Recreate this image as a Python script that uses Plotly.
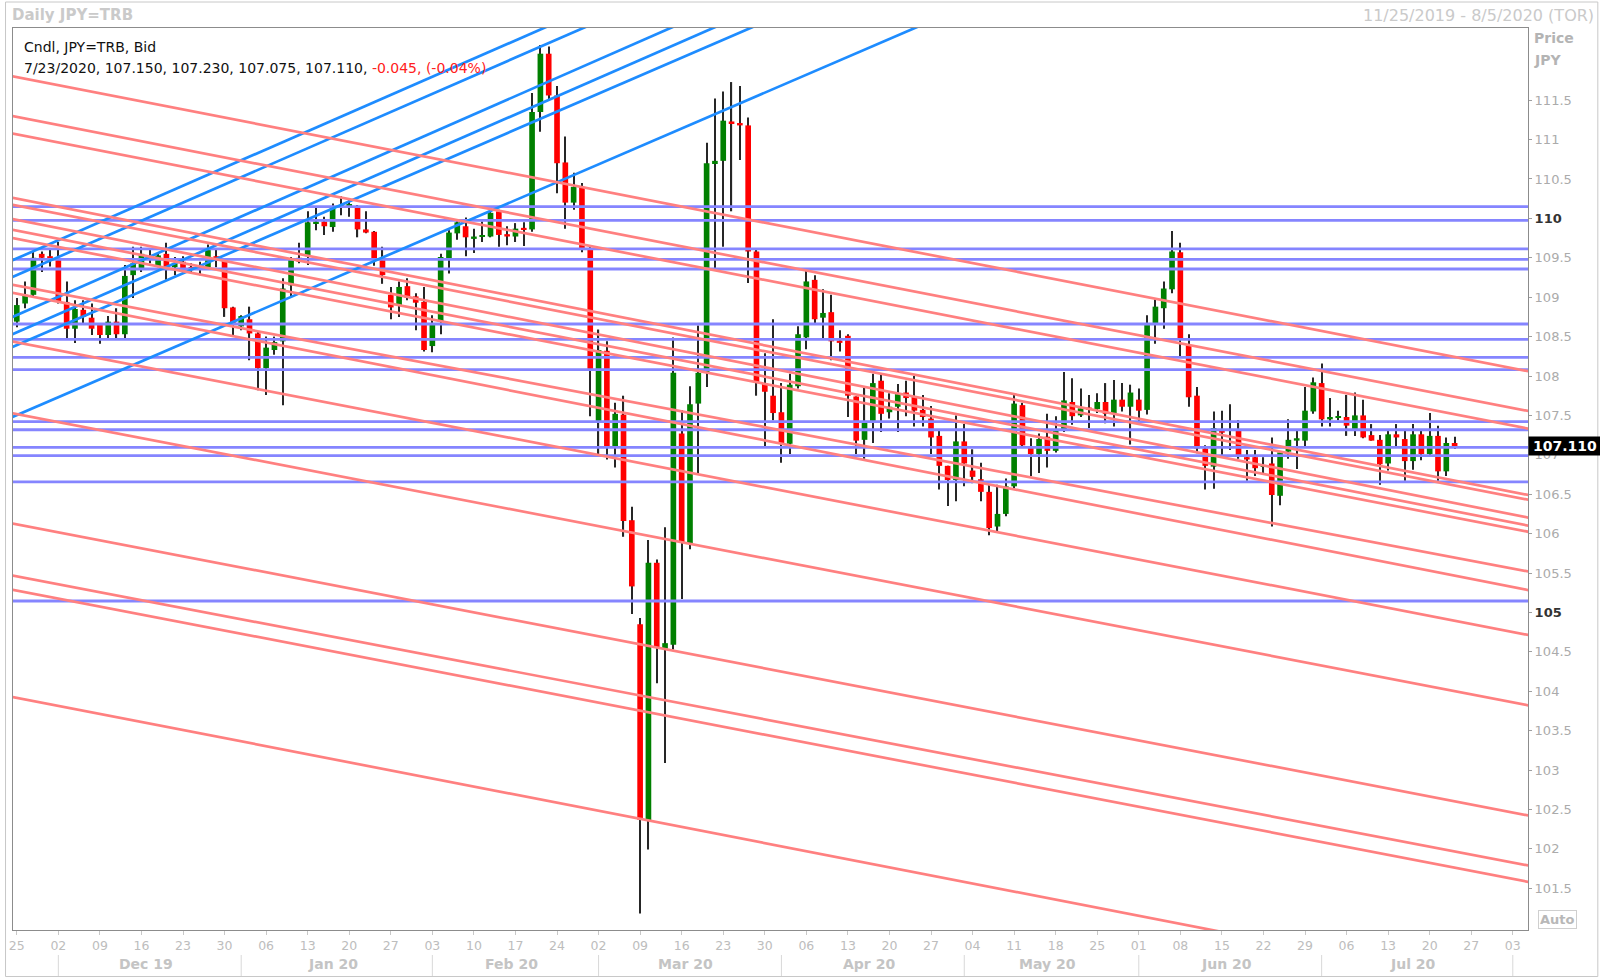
import plotly.graph_objects as go
import pandas as pd

# ---------------- data ----------------
all_days = pd.bdate_range("2019-11-25", "2020-08-05")   # trading-day axis (weekends removed)
n_candles = 174

opens = [108.69,108.92,109.03,109.55,109.52,109.47,108.94,108.60,108.84,108.74,
         108.66,108.52,108.69,108.53,109.28,109.35,109.50,109.39,109.55,109.38,
         109.45,109.38,109.37,109.38,109.52,109.47,108.87,108.63,108.72,108.54,
         108.10,108.33,108.44,109.15,109.50,109.52,109.94,109.96,109.89,110.15,
         110.16,110.15,109.86,109.83,109.47,109.03,108.89,109.14,109.01,108.94,
         108.38,108.69,109.49,109.81,109.90,109.74,109.77,109.77,110.09,109.80,
         109.77,109.88,109.86,111.35,112.09,111.56,110.71,110.20,110.40,109.60,
         107.43,108.32,107.11,107.51,106.17,104.85,102.36,105.63,104.54,104.59,
         107.27,105.88,107.65,108.05,110.69,110.73,111.23,111.21,111.18,109.58,
         107.91,107.75,107.54,107.14,107.87,108.49,109.22,108.74,108.81,108.45,
         108.51,107.74,107.19,107.43,107.94,107.54,107.61,107.79,107.74,107.57,
         107.46,107.24,106.86,106.68,107.17,106.80,106.69,106.53,106.09,106.25,
         106.60,107.63,107.11,107.01,107.23,107.05,107.31,107.67,107.50,107.60,
         107.58,107.67,107.53,107.70,107.61,107.70,107.57,108.65,108.86,109.10,
         109.57,108.39,107.75,107.08,106.85,107.32,107.32,107.31,106.97,106.97,
         106.85,106.89,106.48,107.04,107.18,107.18,107.55,107.91,107.45,107.47,
         107.48,107.31,107.50,107.25,107.19,106.89,107.26,107.20,106.92,107.26,
         107.01,107.24,106.79,107.150]
highs = [108.99,109.20,109.58,109.58,109.60,109.70,109.20,108.96,108.96,108.92,
         108.67,108.76,108.86,109.41,109.64,109.64,109.61,109.55,109.69,109.51,
         109.52,109.43,109.45,109.67,109.60,109.49,108.88,108.77,108.88,108.56,
         108.50,108.50,109.24,109.51,109.69,110.09,110.15,110.02,110.19,110.28,
         110.23,110.17,110.09,109.84,109.64,109.13,109.20,109.24,109.05,109.13,
         108.77,109.55,109.85,109.99,110.01,109.87,109.96,110.09,110.11,109.90,
         109.94,109.95,111.59,112.20,112.18,111.68,111.04,110.58,110.45,109.64,
         108.59,108.44,107.66,107.75,106.34,104.93,105.92,105.67,106.08,108.49,
         107.57,107.87,108.64,110.96,111.52,111.61,111.73,111.68,111.28,109.62,
         108.29,108.72,107.91,108.03,108.63,109.34,109.28,109.10,109.03,108.58,
         108.53,107.74,107.86,108.03,108.03,107.78,107.90,107.94,108.00,107.76,
         107.62,107.32,106.86,107.50,107.39,107.07,106.90,106.62,106.62,106.70,
         107.76,107.66,107.21,107.27,107.52,107.49,108.05,107.97,107.84,107.76,
         107.78,107.91,107.95,107.91,107.89,107.84,108.77,108.97,109.20,109.84,
         109.69,108.53,107.86,107.12,107.55,107.56,107.64,107.44,107.06,107.06,
         106.97,107.22,107.03,107.45,107.32,107.86,107.98,108.16,107.72,107.56,
         107.76,107.79,107.70,107.39,107.25,107.31,107.39,107.31,107.39,107.32,
         107.53,107.37,107.22,107.230]
lows = [108.62,108.86,109.01,109.32,109.39,108.92,108.48,108.42,108.67,108.52,
        108.41,108.48,108.48,108.48,108.99,109.32,109.43,109.38,109.22,109.28,
        109.31,109.31,109.28,109.37,109.38,108.75,108.50,108.58,108.20,107.82,
        107.76,108.27,107.63,109.00,109.43,109.41,109.85,109.79,109.83,110.04,
        110.02,109.76,109.81,109.40,109.17,108.72,108.75,108.96,108.58,108.31,
        108.30,108.53,109.30,109.73,109.52,109.56,109.70,109.76,109.64,109.66,
        109.70,109.65,109.83,111.10,111.50,110.32,109.87,110.11,109.57,107.49,
        106.99,106.94,106.84,105.96,104.98,101.18,101.99,104.10,103.09,104.53,
        105.17,105.80,106.76,107.86,109.37,109.64,110.09,110.74,109.18,107.75,
        107.11,107.44,106.90,107.01,107.84,108.34,108.67,108.48,108.20,108.31,
        107.48,107.01,106.95,107.15,107.29,107.46,107.29,107.49,107.36,107.36,
        107.01,106.56,106.35,106.41,106.60,106.64,106.41,105.98,106.03,106.22,
        106.58,107.10,106.73,106.77,106.84,107.03,107.29,107.38,107.48,107.34,
        107.53,107.40,107.36,107.55,107.13,107.43,107.51,108.41,108.60,109.05,
        108.25,107.61,107.02,106.56,106.57,106.99,107.06,106.95,106.67,106.73,
        106.76,106.09,106.36,106.95,106.82,107.11,107.52,107.36,107.36,107.44,
        107.24,107.24,107.21,107.18,106.62,106.80,107.10,106.67,106.81,106.93,
        106.98,106.67,106.73,107.075]
closes = [108.90,109.03,109.50,109.50,109.49,108.94,108.60,108.85,108.75,108.60,
          108.52,108.69,108.53,109.27,109.43,109.55,109.48,109.53,109.38,109.43,
          109.34,109.37,109.36,109.60,109.47,108.86,108.66,108.76,108.54,108.10,
          108.36,108.43,109.11,109.48,109.45,109.95,109.96,109.90,110.15,110.17,
          110.18,109.86,109.82,109.49,109.28,108.87,109.13,108.99,108.93,108.33,
          108.65,109.51,109.82,109.95,109.76,109.77,109.78,110.07,109.79,109.77,
          109.87,109.86,111.35,112.09,111.56,110.70,110.20,110.40,109.60,108.09,
          108.33,107.11,107.52,106.16,105.33,102.37,105.63,104.55,104.61,108.04,
          105.89,107.64,108.04,110.70,110.73,111.24,111.21,111.18,109.58,107.92,
          107.80,107.53,107.15,107.89,108.53,109.20,108.72,108.80,108.44,108.42,
          107.75,107.18,107.43,107.91,107.52,107.61,107.77,107.72,107.56,107.48,
          107.22,106.86,106.68,107.17,106.89,106.72,106.53,106.07,106.25,106.60,
          107.65,107.12,107.01,107.20,107.05,107.31,107.69,107.49,107.59,107.58,
          107.67,107.52,107.70,107.61,107.79,107.56,108.65,108.88,109.11,109.58,
          108.48,107.73,107.08,106.86,107.34,107.28,107.31,106.99,106.94,106.83,
          106.87,106.49,107.03,107.19,107.21,107.56,107.92,107.45,107.48,107.49,
          107.37,107.50,107.22,107.18,106.88,107.26,107.22,106.92,107.26,107.01,
          107.24,106.79,107.15,107.110]

# support / resistance levels (horizontal)
h_levels = [110.149, 109.975, 109.612, 109.481, 109.358, 108.660, 108.466, 108.237,
            108.080, 107.420, 107.318, 107.095, 106.989, 106.657, 105.145]

# descending trend lines: price on 2019-11-25 and on 2020-08-03
red_start_date, red_end_date = "2019-11-25", "2020-08-03"
red_start = [111.792, 111.287, 111.066, 110.250, 110.161, 109.980, 109.844, 109.739,
             109.146, 109.044, 108.426, 107.518, 106.119, 105.459, 105.278, 103.917]
red_end = [108.099, 107.594, 107.371, 106.528, 106.468, 106.242, 106.140, 106.061,
           105.556, 105.322, 104.752, 103.859, 102.461, 101.826, 101.619, 100.228]

# ascending trend lines: price on 2019-11-25 and on 2020-05-11
blue_start_date, blue_end_date = "2019-11-25", "2020-05-11"
blue_start = [109.492, 109.280, 108.773, 108.553, 108.392, 107.503]
blue_end = [115.025, 114.801, 114.331, 114.086, 113.862, 112.959]

last_info = "7/23/2020, 107.150, 107.230, 107.075, 107.110, "
last_change = "-0.045, (-0.04%)"
last_price = 107.110

# ---------------- helpers ----------------
pos = {d: i for i, d in enumerate(all_days)}
def xi(s):
    return pos[pd.Timestamp(s)]

X0, X1 = -0.456, 181.83
Y0, Y1 = 100.97, 112.416
FONT = "DejaVu Sans"

x = list(range(n_candles))
fig = go.Figure()

# wicks
fig.add_trace(go.Bar(x=x, base=lows, y=[h - l for h, l in zip(highs, lows)],
                     width=0.14, marker=dict(color="#262626", line=dict(width=0)),
                     hoverinfo="skip", showlegend=False))
# bodies
body_base = [min(o, c) for o, c in zip(opens, closes)]
body_h = [max(abs(c - o), 0.014) for o, c in zip(opens, closes)]
body_col = ["#008000" if c >= o else "#FF0000" for o, c in zip(opens, closes)]
fig.add_trace(go.Bar(x=x, base=body_base, y=body_h, width=0.68,
                     marker=dict(color=body_col, line=dict(width=0)),
                     hoverinfo="skip", showlegend=False))

def extend(xa, ya, xb, yb):
    s = (yb - ya) / (xb - xa)
    return [X0 - 1, X1 + 1], [ya + s * (X0 - 1 - xa), ya + s * (X1 + 1 - xa)]

# horizontal levels
for p in h_levels:
    fig.add_trace(go.Scatter(x=[X0 - 1, X1 + 1], y=[p, p], mode="lines",
                             line=dict(color="#8585FF", width=2.8),
                             hoverinfo="skip", showlegend=False))
# ascending lines
for a, b in zip(blue_start, blue_end):
    xs, ys = extend(xi(blue_start_date), a, xi(blue_end_date), b)
    fig.add_trace(go.Scatter(x=xs, y=ys, mode="lines",
                             line=dict(color="#1E8CFF", width=2.7),
                             hoverinfo="skip", showlegend=False))
# descending lines
for a, b in zip(red_start, red_end):
    xs, ys = extend(xi(red_start_date), a, xi(red_end_date), b)
    fig.add_trace(go.Scatter(x=xs, y=ys, mode="lines",
                             line=dict(color="#FF8080", width=2.7),
                             hoverinfo="skip", showlegend=False))

# ---------------- axes ----------------
mondays = [d for d in all_days if d.weekday() == 0 and d <= pd.Timestamp("2020-08-03")]
tickvals = [pos[d] for d in mondays]
ticktext = [d.strftime("%d") for d in mondays]

ytv = [101.5 + 0.5 * k for k in range(21)]
ytt = []
for v in ytv:
    s = ("%g" % v)
    if v in (105.0, 110.0):
        s = "<b><span style='color:#333333'>%s</span></b>" % s
    ytt.append(s)

fig.update_layout(
    width=1600, height=978,
    margin=dict(l=9, r=72, t=28, b=48),
    paper_bgcolor="white", plot_bgcolor="white",
    barmode="overlay", hovermode=False,
    font=dict(family=FONT, size=13, color="#A8A8A8"),
    xaxis=dict(range=[X0, X1], showgrid=False, zeroline=False,
               showline=True, mirror=True, linecolor="#8C8C8C", linewidth=1,
               tickvals=tickvals, ticktext=ticktext, ticks="outside", ticklen=4,
               tickcolor="#C8C8C8", tickfont=dict(family=FONT, size=12.5, color="#BDBDBD")),
    yaxis=dict(range=[Y0, Y1], side="right", showgrid=False, zeroline=False,
               showline=True, mirror=True, linecolor="#8C8C8C", linewidth=1,
               tickvals=ytv, ticktext=ytt, ticks="outside", ticklen=3,
               tickcolor="#A0A0A0", tickfont=dict(family=FONT, size=13, color="#ABABAB")),
)

# month labels + separators
months = pd.period_range("2019-12", "2020-07", freq="M")
shapes = []
annots = []
for m in months:
    days_m = [d for d in all_days if d.to_period("M") == m]
    annots.append(dict(x=(pos[days_m[0]] + pos[days_m[-1]]) / 2, y=0, xref="x", yref="paper",
                       yshift=-34, text="<b>%s</b>" % days_m[0].strftime("%b %y"),
                       showarrow=False, yanchor="middle",
                       font=dict(family=FONT, size=14, color="#C4C4C4")))
for d in ["2019-12-02", "2020-01-01", "2020-02-03", "2020-03-02", "2020-04-01",
          "2020-05-01", "2020-06-01", "2020-07-01", "2020-08-03"]:
    shapes.append(dict(type="line", xref="x", yref="paper", x0=xi(d), x1=xi(d),
                       y0=-25 / 902, y1=-46 / 902, line=dict(color="#D8D8D8", width=1)))
# outer frame
shapes.append(dict(type="rect", xref="paper", yref="paper",
                   x0=-7.5 / 1519, x1=1589 / 1519, y0=-46.5 / 902, y1=1 + 26 / 902,
                   line=dict(color="#C8C8C8", width=1), fillcolor="rgba(0,0,0,0)"))

annots += [
    dict(x=0, y=1, xref="paper", yref="paper", xanchor="left", yanchor="middle",
         xshift=-3, yshift=13, text="<b>Daily JPY=TRB</b>", showarrow=False,
         font=dict(family=FONT, size=15, color="#CACACA")),
    dict(x=1, y=1, xref="paper", yref="paper", xanchor="right", yanchor="middle",
         xshift=68, yshift=13, text="11/25/2019 - 8/5/2020 (TOR)", showarrow=False,
         font=dict(family=FONT, size=16, color="#CACACA")),
    dict(x=1, y=1, xref="paper", yref="paper", xanchor="left", yanchor="middle",
         xshift=4, yshift=-10, text="<b>Price</b>", showarrow=False,
         font=dict(family=FONT, size=14, color="#B4B4B4")),
    dict(x=1, y=1, xref="paper", yref="paper", xanchor="left", yanchor="middle",
         xshift=4, yshift=-32, text="<b>JPY</b>", showarrow=False,
         font=dict(family=FONT, size=14, color="#B4B4B4")),
    dict(x=0, y=1, xref="paper", yref="paper", xanchor="left", yanchor="middle",
         xshift=9, yshift=-19, text="Cndl, JPY=TRB, Bid", showarrow=False,
         font=dict(family=FONT, size=14, color="#111111")),
    dict(x=0, y=1, xref="paper", yref="paper", xanchor="left", yanchor="middle",
         xshift=9, yshift=-40,
         text=last_info + "<span style='color:#FF2020'>%s</span>" % last_change,
         showarrow=False, font=dict(family=FONT, size=14, color="#111111")),
    dict(x=1, y=last_price, xref="paper", yref="y", xanchor="left", yanchor="middle",
         xshift=0, text="<b>%.3f</b>" % last_price, showarrow=False,
         bgcolor="#000000", borderpad=1, width=70, align="center",
         font=dict(family=FONT, size=14, color="#FFFFFF")),
    dict(x=1, y=0, xref="paper", yref="paper", xanchor="center", yanchor="middle",
         xshift=29, yshift=11, text="<b>Auto</b>", showarrow=False,
         bordercolor="#CFCFCF", borderwidth=1, borderpad=1,
         font=dict(family=FONT, size=13, color="#B8B8B8")),
]
fig.update_layout(shapes=shapes, annotations=annots)

fig.write_html("out.html", config={"displayModeBar": False},
               post_script="document.body.style.margin='0px';document.body.style.overflow='hidden';")
